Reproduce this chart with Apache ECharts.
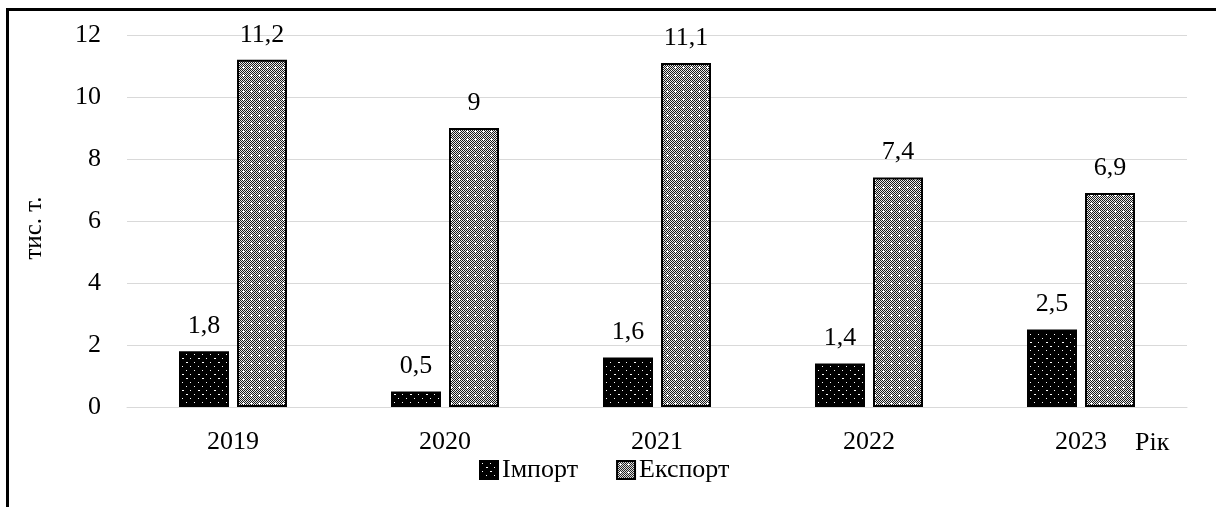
<!DOCTYPE html>
<html>
<head>
<meta charset="utf-8">
<style>
  html, body { margin: 0; padding: 0; background: #fff; }
  #chart { width: 1216px; height: 507px; }
</style>
<script src="https://cdn.jsdelivr.net/npm/echarts@6/dist/echarts.min.js"></script>
</head>
<body>
<div id="chart"></div>
<script>
// Years on the category axis
const years = ['2019', '2020', '2021', '2022', '2023'];
// Volumes, thousand tonnes
const importValues = [1.8, 0.5, 1.6, 1.4, 2.5];
const exportValues = [11.2, 9, 11.1, 7.4, 6.9];
const seriesNames = ['Імпорт', 'Експорт'];
const yTicks = [0, 2, 4, 6, 8, 10, 12];

// Black fill sprinkled with small white dots
function dotPattern() {
  const c = document.createElement('canvas');
  c.width = 16; c.height = 16;
  const g = c.getContext('2d');
  g.fillStyle = '#000';
  g.fillRect(0, 0, 16, 16);
  g.fillStyle = '#fff';
  g.fillRect(2, 2, 1, 1);
  g.fillRect(10, 2, 1, 1);
  g.fillRect(6, 6, 2, 1);
  g.fillRect(14, 6, 1, 1);
  g.fillRect(2, 10, 1, 1);
  g.fillRect(10, 10, 2, 1);
  g.fillRect(6, 14, 1, 1);
  g.fillRect(14, 14, 1, 1);
  return c;
}

// Fine grey checker with small white crosses
function checkPattern() {
  const c = document.createElement('canvas');
  c.width = 8; c.height = 8;
  const g = c.getContext('2d');
  for (let y = 0; y < 8; y++) {
    for (let x = 0; x < 8; x++) {
      g.fillStyle = ((x + y) % 2 === 0) ? '#1a1a1a' : '#e8e8e8';
      g.fillRect(x, y, 1, 1);
    }
  }
  g.fillStyle = '#fff';
  g.fillRect(3, 2, 1, 3);
  g.fillRect(2, 3, 3, 1);
  g.fillRect(7, 6, 1, 1);
  return c;
}

const serif = '"Liberation Serif", "Times New Roman", serif';
const fmt = p => String(p.value).replace('.', ',');
const FS = 26;

const chart = echarts.init(document.getElementById('chart'), null, { renderer: 'canvas' });
chart.setOption({
  backgroundColor: '#fff',
  animation: false,
  textStyle: { fontFamily: serif, color: '#000' },
  graphic: [{
    type: 'rect',
    shape: { x: 7.5, y: 9.5, width: 1240, height: 520 },
    style: { fill: 'none', stroke: '#000', lineWidth: 3 },
    silent: true
  }],
  grid: { left: 127, right: 29, top: 35, bottom: 100 },
  legend: {
    data: seriesNames,
    left: 474,
    top: 452,
    itemWidth: 18,
    itemHeight: 18,
    itemGap: 38,
    icon: 'rect',
    textStyle: { fontFamily: serif, fontSize: FS, color: '#000', padding: [0, 0, 0, -1] }
  },
  xAxis: {
    type: 'category',
    data: years,
    name: 'Рік',
    nameLocation: 'end',
    nameGap: -52,
    nameTextStyle: { fontFamily: serif, fontSize: FS, color: '#000', verticalAlign: 'top', padding: [23, 0, 0, 0] },
    axisLine: { lineStyle: { color: '#d9d9d9', width: 1 } },
    axisTick: { show: false },
    axisLabel: { fontFamily: serif, fontSize: FS, color: '#000', margin: 22 }
  },
  yAxis: {
    type: 'value',
    min: yTicks[0],
    max: yTicks[yTicks.length - 1],
    interval: 2,
    name: 'тис. т.',
    nameLocation: 'middle',
    nameGap: 80,
    nameRotate: 90,
    nameTextStyle: { fontFamily: serif, fontSize: 25, color: '#000', padding: [0, 14, 0, 0] },
    axisLine: { show: false },
    axisTick: { show: false },
    axisLabel: { fontFamily: serif, fontSize: FS, color: '#000', margin: 26 },
    splitLine: { lineStyle: { color: '#d9d9d9', width: 1 } }
  },
  series: [
    {
      name: seriesNames[0],
      type: 'bar',
      data: importValues,
      barWidth: 50,
      barGap: '16%',
      itemStyle: { color: { image: dotPattern(), repeat: 'repeat' }, borderColor: '#000', borderWidth: 2 },
      label: { show: true, position: 'top', distance: 12, formatter: fmt, fontFamily: serif, fontSize: FS, color: '#000' }
    },
    {
      name: seriesNames[1],
      type: 'bar',
      data: exportValues,
      barWidth: 50,
      itemStyle: { color: { image: checkPattern(), repeat: 'repeat' }, borderColor: '#000', borderWidth: 2 },
      label: { show: true, position: 'top', distance: 12, formatter: fmt, fontFamily: serif, fontSize: FS, color: '#000' }
    }
  ]
});
</script>
</body>
</html>
